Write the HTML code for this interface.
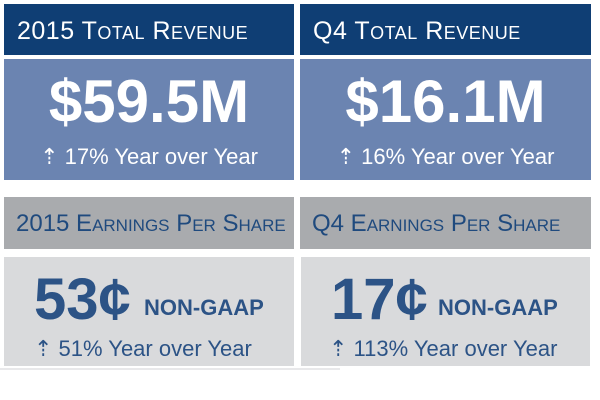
<!DOCTYPE html>
<html><head><style>
body{margin:0;width:600px;height:400px;background:#fff;position:relative;overflow:hidden;font-family:"Liberation Sans",sans-serif}
div{position:absolute;box-sizing:border-box}
.hd{height:51px;top:4px;background:#0f3e74;color:#fff;font-size:25px;font-variant:small-caps;padding-left:13px;line-height:54px;letter-spacing:0.5px}
.bb{top:59px;height:121px;background:#6b84b1;color:#fff;text-align:center}
.big{left:0;right:0;top:8px;font-size:60px;font-weight:bold;line-height:70px}
.sub{left:0;right:0;top:84px;font-size:22px;line-height:28px}
.gh{top:197px;height:52px;background:#a9abae;color:#1f4a7e;font-size:24px;font-variant:small-caps;padding-left:12px;line-height:54px}
.lb{top:257px;height:109px;background:#d9dadc;color:#2c5386}
.num{top:10px;font-size:58px;font-weight:bold;line-height:66px}
.ng{top:38px;font-size:22px;font-weight:bold;line-height:26px}
.sub2{top:78px;font-size:22px;line-height:28px}
</style></head><body>
<div class="hd" style="left:4px;width:290px">2015 Total Revenue</div>
<div class="hd" style="left:300px;width:291px">Q4 Total Revenue</div>
<div class="bb" style="left:4px;width:290px">
 <div class="big">$59.5M</div>
 <div class="sub">⇡ 17% Year over Year</div>
</div>
<div class="bb" style="left:300px;width:291px">
 <div class="big">$16.1M</div>
 <div class="sub">⇡ 16% Year over Year</div>
</div>
<div class="gh" style="left:4px;width:290px">2015 Earnings Per Share</div>
<div class="gh" style="left:300px;width:291px">Q4 Earnings Per Share</div>
<div class="lb" style="left:4px;width:290px">
 <div class="num" style="left:30px">53¢</div>
 <div class="ng" style="left:140px">NON-GAAP</div>
 <div class="sub2" style="left:30px">⇡ 51% Year over Year</div>
</div>
<div class="lb" style="left:301px;width:289px">
 <div class="num" style="left:30px">17¢</div>
 <div class="ng" style="left:137px">NON-GAAP</div>
 <div class="sub2" style="left:28px">⇡ 113% Year over Year</div>
</div>
<div style="left:0;top:368px;width:340px;height:2px;background:#e8e8ea"></div>
</body></html>
